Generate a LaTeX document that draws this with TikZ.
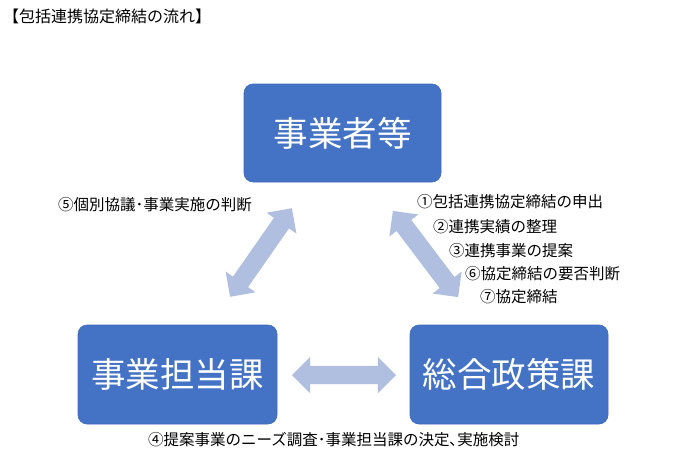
\documentclass[tikz,border=0pt]{standalone}
\usepackage{fontspec}
\setmainfont{Noto Sans CJK JP}
\usetikzlibrary{shapes.arrows}
\definecolor{boxblue}{RGB}{68,114,196}
\definecolor{boxedge}{RGB}{64,108,188}
\definecolor{arrowc}{RGB}{176,190,224}
\tikzset{
  box/.style={rounded corners=9pt, fill=boxblue, draw=boxedge, line width=0.6pt, text=white,
    font=\fontsize{34.5}{40}\selectfont, inner sep=0pt},
  blockarrow/.style={double arrow, fill=arrowc, draw=none, inner sep=0pt,
    minimum width=36pt, double arrow head extend=9pt, double arrow tip angle=90,
    text width=0pt, text height=9pt, text depth=9pt},
  lbl/.style={anchor=west, inner sep=0pt, font=\fontsize{15.5}{19}\selectfont, text=black}
}
\begin{document}
\begin{tikzpicture}[x=1pt, y=-1pt]
\useasboundingbox (0,0) rectangle (689,461);
\fill[white] (0,0) rectangle (689,461);
% title
\node[lbl, font=\fontsize{16}{19}\selectfont] (title) at (3,16) {【包括連携協定締結の流れ】};
% boxes
\node[box, minimum width=197pt, minimum height=98pt] (biz) at (342.5,133) {事業者等};
\node[box, minimum width=199pt, minimum height=99pt] (dept) at (177.5,374.5) {事業担当課};
\node[box, minimum width=198pt, minimum height=99pt] (policy) at (509,374.5) {総合政策課};
% arrows
\node[blockarrow, minimum height=104pt] (a1) at (344,375) {};
\node[blockarrow, minimum height=108pt, rotate=55.1] (a2) at (261,252.5) {};
\node[blockarrow, minimum height=108pt, rotate=-52.9] (a3) at (425.5,254) {};
% labels
\node[lbl] (l5) at (58,205) {⑤個別協議･事業実施の判断};
\node[lbl] (l1) at (417,202) {①包括連携協定締結の申出};
\node[lbl] (l2) at (433,227) {②連携実績の整理};
\node[lbl] (l3) at (449,251) {③連携事業の提案};
\node[lbl] (l6) at (465,274) {⑥協定締結の要否判断};
\node[lbl] (l7) at (480,297) {⑦協定締結};
\node[lbl] (l4) at (148,440) {④提案事業のニーズ調査･事業担当課の決定､実施検討};
\end{tikzpicture}
\end{document}
